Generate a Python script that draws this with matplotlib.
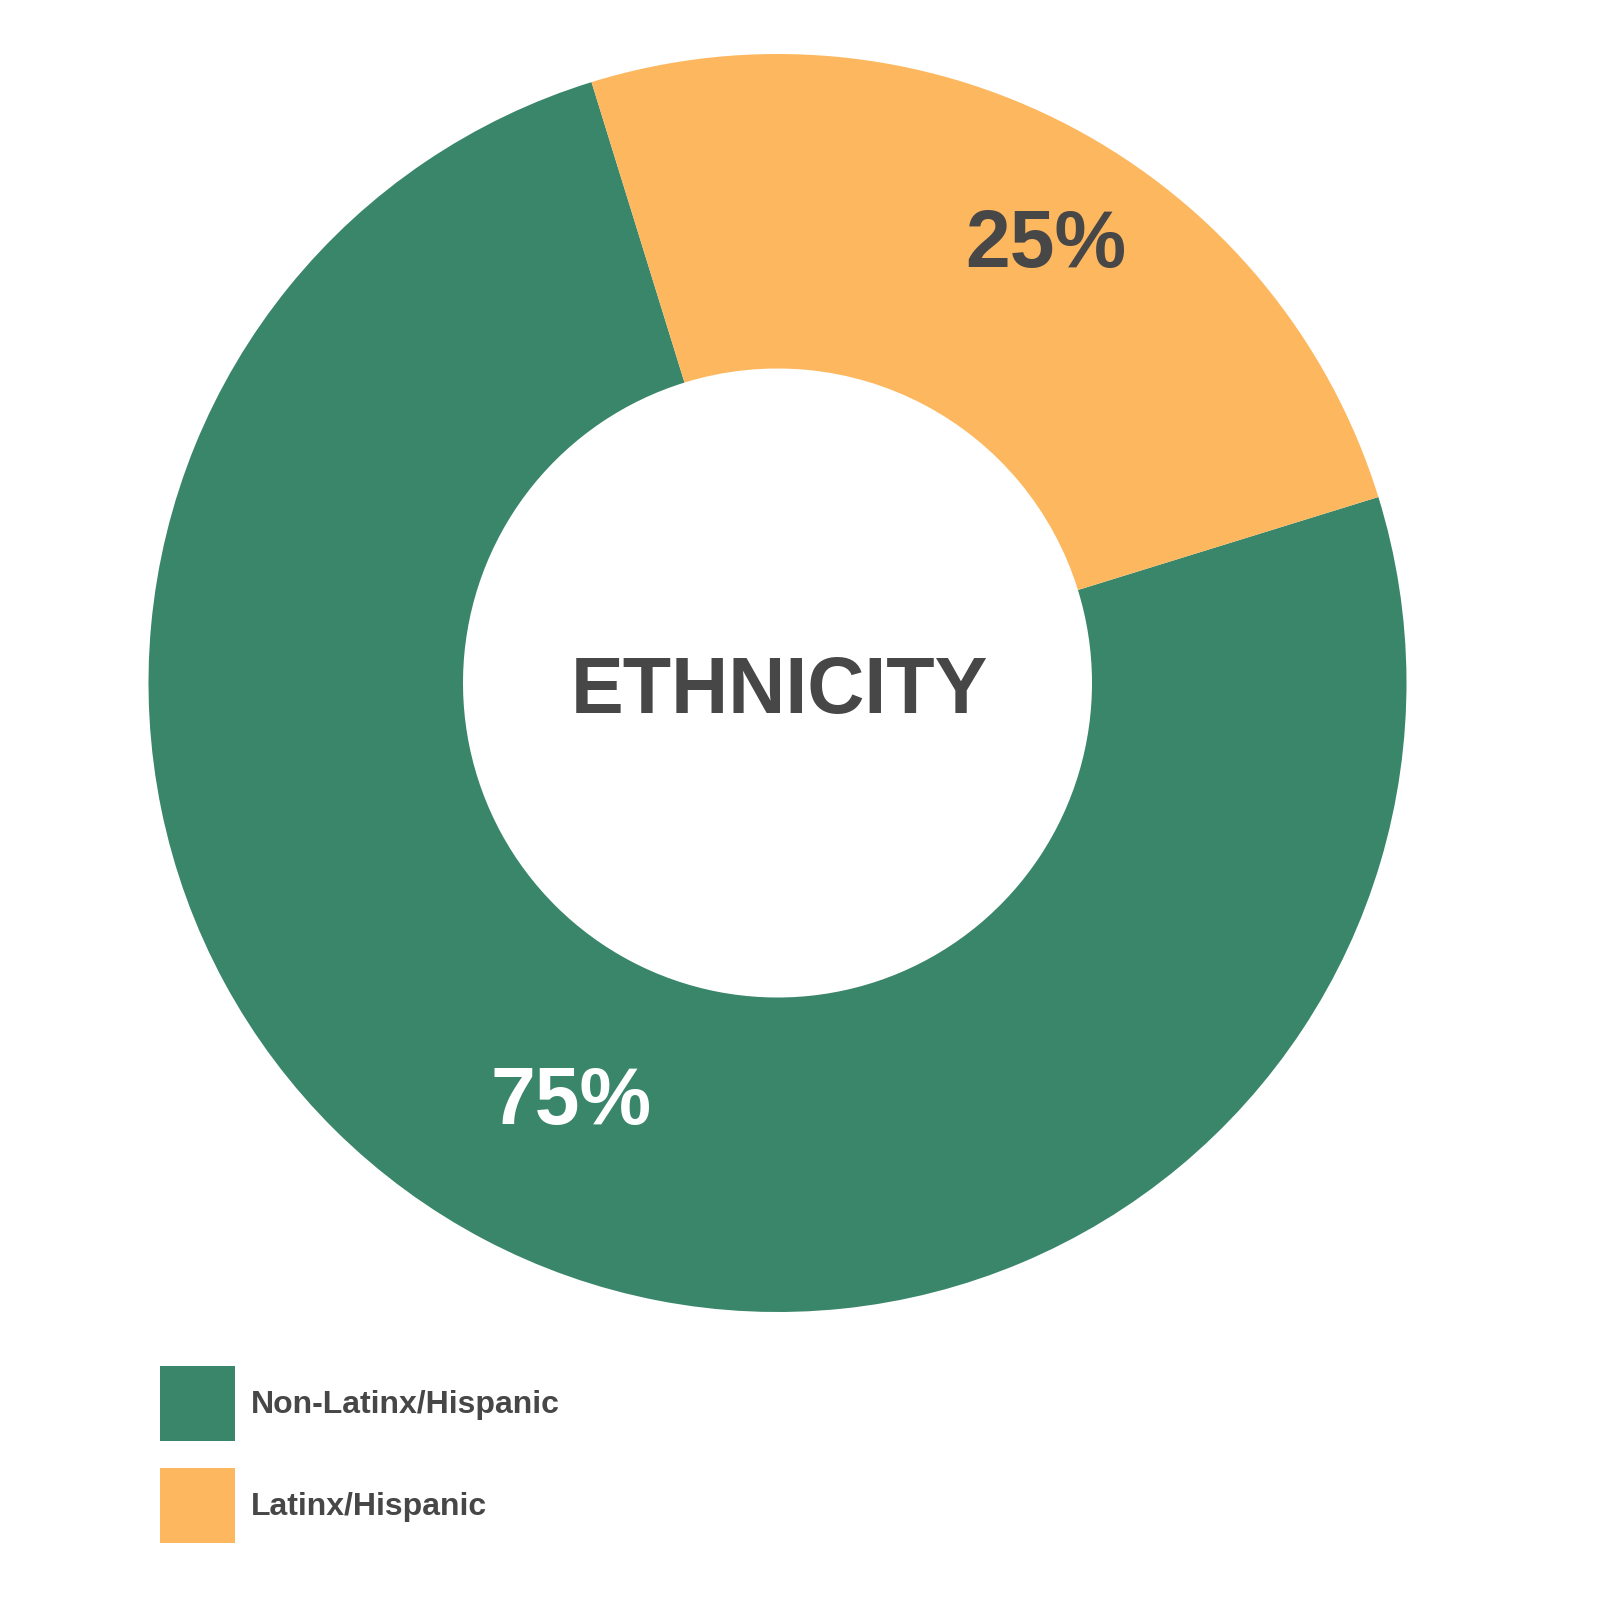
import numpy as np
import matplotlib.pyplot as plt

labels = ["Non-Latinx/Hispanic", "Latinx/Hispanic"]
values = [75, 25]
pct_text = ["75%", "25%"]
colors = ["#39866B", "#FDB85F"]
text_colors = ["white", "#474747"]

plt.rcParams['font.family'] = ['Liberation Sans', 'DejaVu Sans']
dark = "#474747"

fig = plt.figure(figsize=(16, 16), dpi=100)
ax = fig.add_axes([0, 0, 1, 1])

cx, cy, R = 777.5, 1600 - 683, 629
wedges, _ = ax.pie(values, colors=colors, startangle=107.2, counterclock=True,
                   center=(cx, cy), radius=R,
                   wedgeprops=dict(width=R * 0.5, linewidth=0))
ax.set_xlim(0, 1600)
ax.set_ylim(0, 1600)
ax.set_aspect('equal')
ax.axis('off')

# label placement (radius fraction, angle shift) per wedge
label_pos = [(0.745, 1.6), (0.815, -3.7)]
for w, txt, tc, (rf, da) in zip(wedges, pct_text, text_colors, label_pos):
    ang = np.deg2rad((w.theta1 + w.theta2) / 2 + da)
    ax.text(cx + rf * R * np.cos(ang), cy + rf * R * np.sin(ang), txt,
            ha='center', va='center', fontsize=58, fontweight='bold', color=tc)

ax.text(cx + 2, cy - 10, "ETHNICITY", ha='center', va='center',
        fontsize=57, fontweight='bold', color=dark)

fs = 23
fs_px = fs * 100 / 72
hlen = 75 / fs_px
hh = (75 / fs_px - 0.245) / 0.65
leg = ax.legend(wedges, labels, loc='upper left', bbox_to_anchor=(0.1, 1 - 1366 / 1600),
                bbox_transform=fig.transFigure, frameon=False, fontsize=fs,
                handlelength=hlen, handleheight=hh, labelspacing=27 / fs_px,
                handletextpad=0.5, borderpad=0, borderaxespad=0)
for t in leg.get_texts():
    t.set_color(dark)
    t.set_fontweight('bold')

fig.savefig("out.png", dpi=100, facecolor='white')
